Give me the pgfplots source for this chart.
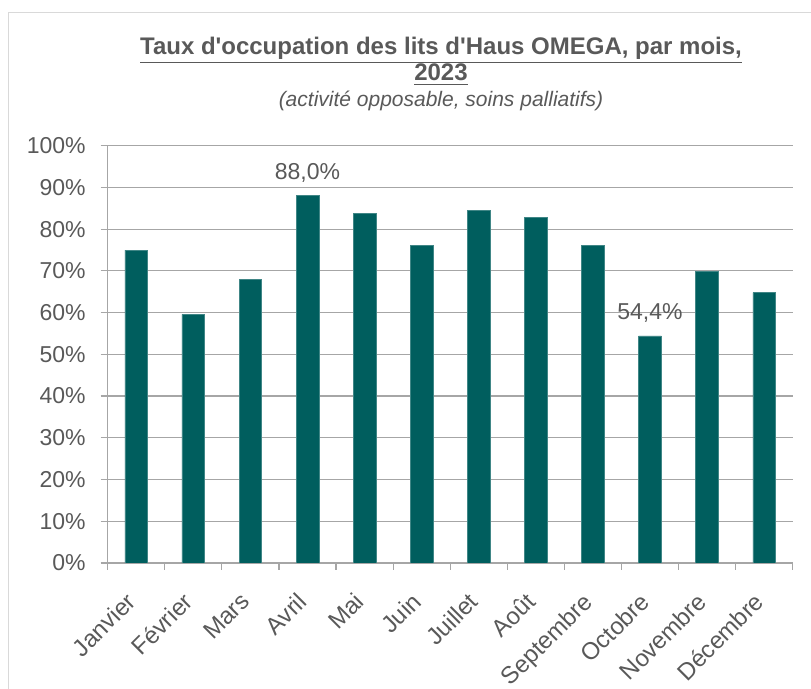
\documentclass[border=0pt]{standalone}
\usepackage{pgfplots}
\pgfplotsset{compat=1.18}
\usepackage{fontspec}
\setmainfont{Liberation Sans}
\definecolor{barteal}{HTML}{005E5E}
\definecolor{txtgray}{HTML}{595959}
\definecolor{gridgray}{HTML}{A6A6A6}
\definecolor{framegray}{HTML}{D9D9D9}

\begin{document}
\begin{tikzpicture}[x=0.5pt,y=0.5pt]
\useasboundingbox (0,0) rectangle (811,689);
% outer chart frame (only left and top edges are visible)
\draw[framegray, line width=0.6pt] (8.3,-20) -- (8.3,676.7) -- (830,676.7);
\node[font=\fontsize{12}{14}\selectfont\bfseries, text=txtgray, anchor=base]
  at (441,634) {\underline{Taux d\textquotesingle occupation des lits d\textquotesingle Haus OMEGA, par mois,}};
\node[font=\fontsize{12}{14}\selectfont\bfseries, text=txtgray, anchor=base]
  at (441,608) {\underline{2023}};
\node[font=\fontsize{10.5}{12}\selectfont\itshape, text=txtgray, anchor=base]
  at (441,582) {(activité opposable, soins palliatifs)};
\begin{axis}[
    at={(53.85pt,63pt)}, anchor=south west,
    scale only axis, width=342.5pt, height=208.65pt,
    xmin=-0.5, xmax=11.5, ymin=0, ymax=100,
    axis x line*=bottom, axis y line*=left,
    axis line style={gridgray, line width=0.6pt, -},
    xtick={0,...,11},
    xticklabels={Janvier,Février,Mars,Avril,Mai,Juin,Juillet,Août,Septembre,Octobre,Novembre,Décembre},
    minor xtick={-0.5,0.5,...,11.5},
    major x tick style={draw=none},
    ytick={0,10,...,100},
    yticklabel={\pgfmathprintnumber{\tick}\%},
    /pgf/number format/assume math mode=true,
    tick align=outside,
    major tick length=3.5pt, minor tick length=3.5pt,
    tick style={gridgray, line width=0.6pt},
    ymajorgrids, grid style={gridgray, line width=0.6pt},
    ticklabel style={text=txtgray},
    y tick label style={font=\fontsize{11.5}{13}\selectfont, xshift=-4pt},
    x tick label style={font=\fontsize{12}{14}\selectfont, rotate=45, anchor=north east, xshift=-8pt},
]
\addplot[ybar, bar width=11.35pt, fill=barteal, draw=barteal!75!white, line width=0.3pt]
  coordinates {(0,75.0) (1,59.6) (2,68.0) (3,88.0) (4,83.7) (5,76.2)
               (6,84.4) (7,82.8) (8,76.1) (9,54.4) (10,69.9) (11,64.8)};
\addplot[draw=none, mark=none, nodes near coords, point meta=explicit symbolic,
  nodes near coords style={font=\fontsize{11.5}{13}\selectfont, text=txtgray, anchor=south, yshift=3pt}]
  coordinates {(3,88.0) [88,0\%] (9,54.4) [54,4\%]};
\end{axis}
\end{tikzpicture}
\end{document}
